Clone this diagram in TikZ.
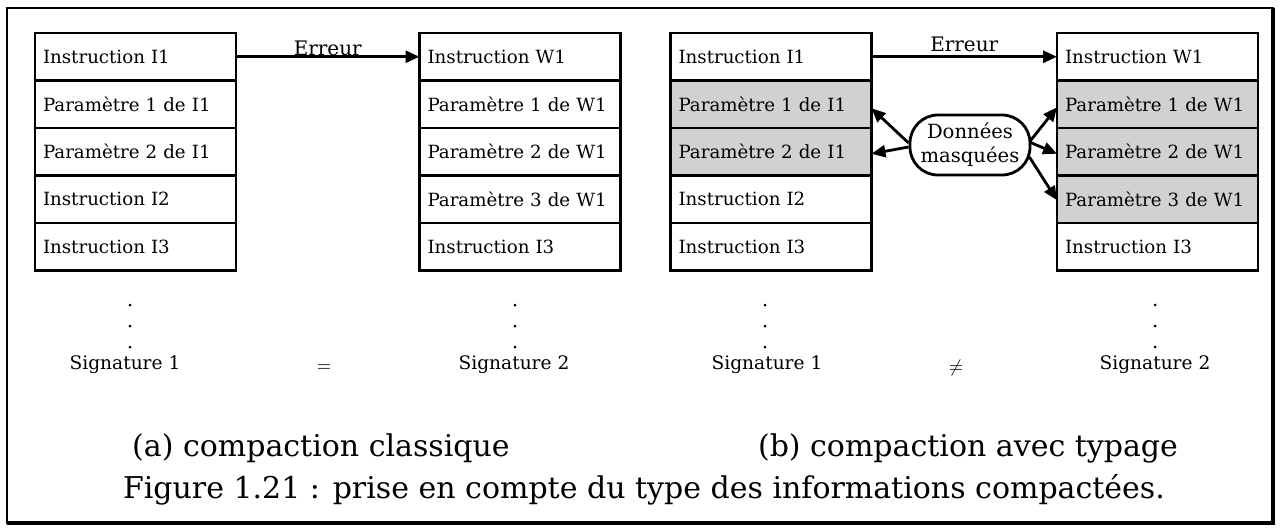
\documentclass[tikz,border=0pt]{standalone}
\usepackage{fontspec}
\setmainfont{DejaVu Serif}
\usepackage{tikz}
\usetikzlibrary{positioning, arrows.meta}
\tikzset{
>={Triangle[length=7pt,width=6pt]}, % filled heads
cell/.style={draw, line width=1.4pt, outer sep=0pt, minimum height=23.75pt, text width=92.5pt,
  inner xsep=4pt, align=left, font=\fontsize{9.1}{10}\selectfont}, % one row of a stack
masked/.style={cell, fill=black!18}, % shaded rows
sig/.style={font=\fontsize{9.3}{11}\selectfont}, % signatures under the stacks
link/.style={->, line width=1.4pt},
}

\begin{document}
\begin{tikzpicture}[x=0.5pt, y=-0.5pt]
        \useasboundingbox (0,0) rectangle (1280,527);
        \draw[line width=1.1pt] (7,8) rectangle (1273,523);
        \draw[line width=1.8pt] (1273,8) -- (1273,523) -- (7,523);

        % (a) program with error
        \node[cell] (la1) at (135.5,56.75) {Instruction I1};
        \node[cell, below=0pt of la1] (la2) {Paramètre 1 de I1};
        \node[cell, below=0pt of la2] (la3) {Paramètre 2 de I1};
        \node[cell, below=0pt of la3] (la4) {Instruction I2};
        \node[cell, below=0pt of la4] (la5) {Instruction I3};

        \node[cell] (ra1) at (520,56.75) {Instruction W1};
        \node[cell, below=0pt of ra1] (ra2) {Paramètre 1 de W1};
        \node[cell, below=0pt of ra2] (ra3) {Paramètre 2 de W1};
        \node[cell, below=0pt of ra3] (ra4) {Paramètre 3 de W1};
        \node[cell, below=0pt of ra4] (ra5) {Instruction I3};

        \draw[link] (la1) -- node[above, inner sep=0pt]{Erreur} (ra1);

        % (b) parameters masked
        \node[cell] (lb1) at (771,56.75) {Instruction I1};
        \node[masked, below=0pt of lb1] (lb2) {Paramètre 1 de I1};
        \node[masked, below=0pt of lb2] (lb3) {Paramètre 2 de I1};
        \node[cell, below=0pt of lb3] (lb4) {Instruction I2};
        \node[cell, below=0pt of lb4] (lb5) {Instruction I3};

        \node[cell] (rb1) at (1157.5,56.75) {Instruction W1};
        \node[masked, below=0pt of rb1] (rb2) {Paramètre 1 de W1};
        \node[masked, below=0pt of rb2] (rb3) {Paramètre 2 de W1};
        \node[masked, below=0pt of rb3] (rb4) {Paramètre 3 de W1};
        \node[cell, below=0pt of rb4] (rb5) {Instruction I3};

        \draw[link] (lb1) -- node[above, inner sep=2pt]{Erreur} (rb1);

        \node[draw, line width=1.4pt, rounded corners=14pt, minimum width=60pt,
              minimum height=30pt, align=center, inner sep=1pt,
              font=\fontsize{9.8}{12}\selectfont] (masque) at (970,145) {Données\\masquées};

        \draw[link] ([yshift=1pt]masque.west) -- ([yshift=-2pt]lb2.east);
        \draw[link] ([yshift=-1pt]masque.west) -- ([yshift=-1pt]lb3.east);
        \draw[link] ([xshift=-1pt,yshift=1.5pt]masque.east) -- ([yshift=-1.5pt]rb2.west);
        \draw[link] ([xshift=-1pt,yshift=1.5pt]masque.east) -- ([yshift=-1pt]rb3.west);
        \draw[link] ([xshift=-1pt,yshift=-6pt]masque.east) -- ([yshift=-0.5pt]rb4.west);

        % continuation dots
        \foreach \x in {130,515,765,1155}
            \foreach \y in {305,326,347}
                \fill (\x,\y) circle (0.75pt);

        \node[sig] (sa1) at (125,365) {Signature 1};
        \node[sig] (sa2) at (514,365) {Signature 2};
        \node[sig] (sb1) at (767,365) {Signature 1};
        \node[sig] (sb2) at (1155,365) {Signature 2};
        \node[font=\small] (eq) at (324,368) {$=$};
        \node[font=\small] (neq) at (956,368) {$\neq$};

        % captions
        \node[font=\fontsize{15}{17}\selectfont] (capa) at (321,448) {(a) compaction classique};
        \node[font=\fontsize{15}{17}\selectfont] (capb) at (968,448) {(b) compaction avec typage};
        \node[font=\fontsize{15}{17}\selectfont] (fig) at (644,490) {Figure 1.21 : prise en compte du type des informations compactées.};
    \end{tikzpicture}
\end{document}
